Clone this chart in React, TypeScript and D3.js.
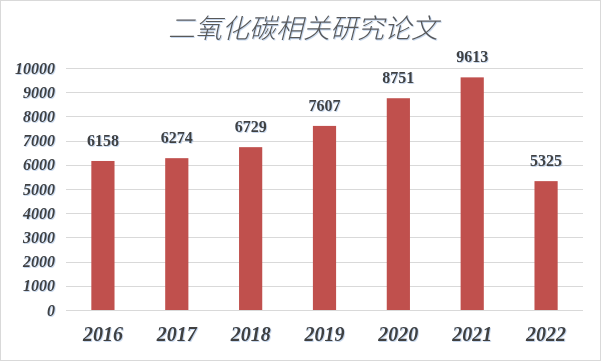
import React from "react";
import * as d3 from "d3";

const years = ["2016", "2017", "2018", "2019", "2020", "2021", "2022"];
const papers = [6158, 6274, 6729, 7607, 8751, 9613, 5325];
const yTicks = [0, 1000, 2000, 3000, 4000, 5000, 6000, 7000, 8000, 9000, 10000];
const title = "二氧化碳相关研究论文";

const W = 602;
const H = 362;
const plot = { left: 66, right: 583, top: 68, bottom: 310 };

export default function App() {
  const x = d3
    .scaleBand<string>()
    .domain(years)
    .range([plot.left, plot.right])
    .paddingInner(0.686)
    .paddingOuter(0.343);
  const y = d3.scaleLinear().domain([0, 10000]).range([plot.bottom, plot.top]);
  const serif = "'Liberation Serif', 'Times New Roman', serif";
  const textFill = "#404040";

  return (
    <svg
      width={W}
      height={H}
      style={{ position: "absolute", left: 0, top: 0, background: "#fff" }}
    >
      <defs>
        <filter id="sh" x="-10%" y="-10%" width="130%" height="140%">
          <feDropShadow dx="0.8" dy="0.8" stdDeviation="0.4" floodColor="#7fa6d6" floodOpacity="0.55" />
        </filter>
      </defs>
      <rect x={0.5} y={0.5} width={W - 2} height={H - 2} fill="#fff" stroke="#d9d9d9" />
      <text
        x={303}
        y={38}
        textAnchor="middle"
        fontFamily="'Noto Sans CJK SC', sans-serif"
        fontWeight={300}
        fontStyle="italic"
        fontSize={27}
        fill="#595959"
        filter="url(#sh)"
      >
        {title}
      </text>
      {yTicks.map((t) => (
        <g key={t}>
          <line
            x1={plot.left}
            x2={plot.right}
            y1={Math.round(y(t)) + 0.5}
            y2={Math.round(y(t)) + 0.5}
            stroke="#d9d9d9"
            strokeWidth={1}
          />
          <text
            x={55}
            y={y(t) + 5.5}
            textAnchor="end"
            fontFamily={serif}
            fontWeight="bold"
            fontStyle="italic"
            fontSize={16}
            fill={textFill}
            filter="url(#sh)"
          >
            {t}
          </text>
        </g>
      ))}
      {years.map((yr, i) => (
        <g key={yr}>
          <rect
            x={x(yr)!}
            y={y(papers[i])}
            width={x.bandwidth()}
            height={y(0) - y(papers[i])}
            fill="#c0504d"
          />
          <text
            x={x(yr)! + x.bandwidth() / 2}
            y={y(papers[i]) - 15}
            textAnchor="middle"
            fontFamily={serif}
            fontWeight="bold"
            fontSize={16}
            fill={textFill}
            filter="url(#sh)"
          >
            {papers[i]}
          </text>
          <text
            x={x(yr)! + x.bandwidth() / 2}
            y={341}
            textAnchor="middle"
            fontFamily={serif}
            fontWeight="bold"
            fontStyle="italic"
            fontSize={20}
            fill={textFill}
            filter="url(#sh)"
          >
            {yr}
          </text>
        </g>
      ))}
    </svg>
  );
}
